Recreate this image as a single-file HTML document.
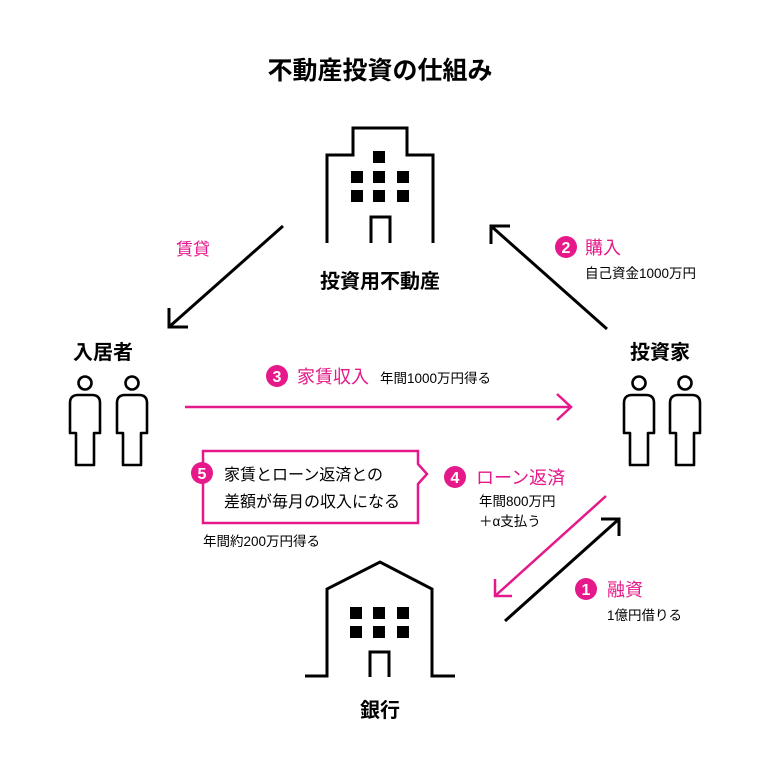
<!DOCTYPE html>
<html><head><meta charset="utf-8"><style>
body{margin:0;background:#fff;width:760px;height:761px;overflow:hidden}
svg text{font-family:"Liberation Sans","Noto Sans CJK JP",sans-serif}
</style></head><body>
<svg width="760" height="761" viewBox="0 0 760 761" xmlns="http://www.w3.org/2000/svg">
<defs>
<g id="p"><circle cx="0" cy="0" r="6.5" fill="none" stroke="#000" stroke-width="2.6"/>
<path d="M-9,82 V50 H-15 V20 Q-15,12 -7,12 H7 Q15,12 15,20 V50 H9 V82 Z" fill="none" stroke="#000" stroke-width="2.6" stroke-linejoin="round"/></g>
</defs>
<text x="380" y="79" text-anchor="middle" font-size="25" font-weight="bold">不動産投資の仕組み</text>
<!-- building -->
<path d="M327,243 V155 H353 V128 H407 V155 H433 V243" fill="none" stroke="#000" stroke-width="3"/>
<g fill="#000"><rect x="373" y="151" width="12" height="12"/><rect x="351" y="171" width="12" height="12"/><rect x="373" y="171" width="12" height="12"/><rect x="397" y="171" width="12" height="12"/><rect x="351" y="190" width="12" height="12"/><rect x="373" y="190" width="12" height="12"/><rect x="397" y="190" width="12" height="12"/></g>
<path d="M371,243 V217 H390 V243" fill="none" stroke="#000" stroke-width="3"/>
<text x="380" y="288" text-anchor="middle" font-size="20" font-weight="bold">投資用不動産</text>
<!-- arrows top -->
<path d="M283,226 L169,327 M169,308 V327 H188" fill="none" stroke="#000" stroke-width="3"/>
<text x="176" y="255" font-size="17" fill="#e5198a">賃貸</text>
<path d="M607,329 L491,226 M491,244 V226 H510" fill="none" stroke="#000" stroke-width="3"/>
<circle cx="566" cy="247" r="11" fill="#e5198a"/><text x="566" y="253" text-anchor="middle" font-size="16" font-weight="bold" fill="#fff">2</text>
<text x="585" y="254" font-size="18" fill="#e5198a">購入</text>
<text x="585" y="278" font-size="13.5">自己資金1000万円</text>
<!-- people -->
<text x="103" y="359" text-anchor="middle" font-size="20" font-weight="bold">入居者</text>
<use href="#p" x="85" y="383"/><use href="#p" x="132" y="383"/>
<text x="660" y="359" text-anchor="middle" font-size="20" font-weight="bold">投資家</text>
<use href="#p" x="639" y="383"/><use href="#p" x="685" y="383"/>
<!-- 3 -->
<path d="M185,407 H571 M557,394 L571,407 L557,420" fill="none" stroke="#e5198a" stroke-width="2.5"/>
<circle cx="277" cy="376" r="11" fill="#e5198a"/><text x="277" y="382" text-anchor="middle" font-size="16" font-weight="bold" fill="#fff">3</text>
<text x="297" y="383" font-size="18" fill="#e5198a">家賃収入</text>
<text x="380" y="383" font-size="13.5">年間1000万円得る</text>
<!-- callout -->
<path d="M203,451 H418 V464 L427,474 L418,484 V523 H203 Z" fill="#fff" stroke="#e5198a" stroke-width="2.5"/>
<circle cx="202" cy="473" r="11" fill="#e5198a"/><text x="202" y="479" text-anchor="middle" font-size="16" font-weight="bold" fill="#fff">5</text>
<text x="224" y="480" font-size="16">家賃とローン返済との</text>
<text x="224" y="507" font-size="16">差額が毎月の収入になる</text>
<text x="203" y="546" font-size="13.5">年間約200万円得る</text>
<circle cx="455" cy="477" r="11" fill="#e5198a"/><text x="455" y="483" text-anchor="middle" font-size="16" font-weight="bold" fill="#fff">4</text>
<text x="476" y="484" font-size="18" fill="#e5198a">ローン返済</text>
<text x="479" y="506" font-size="13.5">年間800万円</text>
<text x="479" y="526" font-size="13.5">＋α支払う</text>
<!-- bottom arrows -->
<path d="M606,496 L495,596 M495,579 V596 H512" fill="none" stroke="#e5198a" stroke-width="2.5"/>
<path d="M505,621 L619,519 M601,519 H619 V536" fill="none" stroke="#000" stroke-width="3"/>
<circle cx="586" cy="589" r="11" fill="#e5198a"/><text x="586" y="595" text-anchor="middle" font-size="16" font-weight="bold" fill="#fff">1</text>
<text x="607" y="596" font-size="18" fill="#e5198a">融資</text>
<text x="607" y="620" font-size="13.5">1億円借りる</text>
<!-- bank -->
<path d="M305,676 H327 V589 L380,562 L432,589 V676 H455" fill="none" stroke="#000" stroke-width="3"/>
<g fill="#000"><rect x="350" y="607" width="12" height="12"/><rect x="373" y="607" width="12" height="12"/><rect x="397" y="607" width="12" height="12"/><rect x="350" y="626" width="12" height="12"/><rect x="373" y="626" width="12" height="12"/><rect x="397" y="626" width="12" height="12"/></g>
<path d="M370,677 V652 H389 V677" fill="none" stroke="#000" stroke-width="3"/>
<text x="380" y="717" text-anchor="middle" font-size="20" font-weight="bold">銀行</text>
</svg>
</body></html>
